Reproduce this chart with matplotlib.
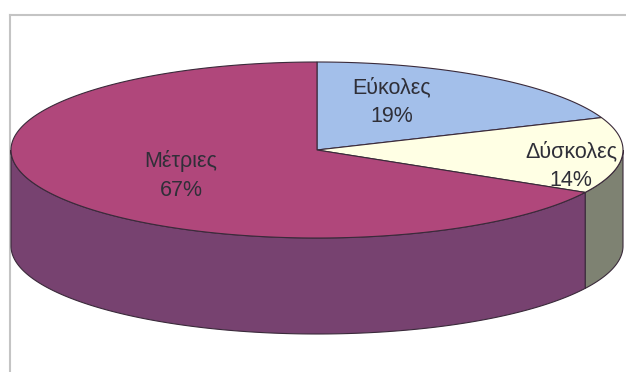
import numpy as np
import matplotlib
matplotlib.use("Agg")
import matplotlib.pyplot as plt
from matplotlib.patches import Polygon

# ---- data ----
labels = ["Εύκολες", "Δύσκολες", "Μέτριες"]
values = [19, 14, 67]
top_colors = ["#A3BFEA", "#FFFFE4", "#B0477B"]
side_colors = ["#6F8199", "#7E8272", "#774270"]

# ---- layout (pixel space) ----
W, H = 626, 372
cx, cy = 317, 150
a, b = 306, 88
depth = 96
label_pos = [(392, 102), (571, 166), (181, 175)]

fig = plt.figure(figsize=(W / 100, H / 100), dpi=100)
ax = fig.add_axes([0, 0, 1, 1])
ax.set_xlim(0, W)
ax.set_ylim(H, 0)
ax.axis("off")

# frame
ax.plot([10, W], [15, 15], color="#c4c4c4", lw=1.5, zorder=0)
ax.plot([10, 10], [15, H], color="#c4c4c4", lw=1.5, zorder=0)


def pt(theta_deg, dy=0.0):
    t = np.radians(theta_deg)
    return cx + a * np.cos(t), cy - b * np.sin(t) + dy


total = float(sum(values))
start = 90.0
edge = "#3a2a3a"
spans = []
for v in values:
    end = start - v / total * 360.0
    spans.append((end, start))
    start = end

# side walls (front half)
for (t0, t1), sc in zip(spans, side_colors):
    for shift in (-360, 0, 360):
        lo = max(t0 + shift, 180.0)
        hi = min(t1 + shift, 360.0)
        if hi > lo:
            th = np.linspace(lo, hi, 200)
            xs, ys = pt(th)
            xb, yb = pt(th[::-1], depth)
            poly = Polygon(np.column_stack([np.r_[xs, xb], np.r_[ys, yb]]),
                           closed=True, facecolor=sc, edgecolor=edge, lw=0.8, zorder=1)
            ax.add_patch(poly)

# tops
for (t0, t1), tc in zip(spans, top_colors):
    th = np.linspace(t0, t1, 300)
    xs, ys = pt(th)
    poly = Polygon(np.column_stack([np.r_[cx, xs], np.r_[cy, ys]]), closed=True,
                   facecolor=tc, edgecolor=edge, lw=0.8, zorder=2)
    ax.add_patch(poly)

for lab, v, (lx, ly) in zip(labels, values, label_pos):
    ax.text(lx, ly, f"{lab}\n{v}%", ha="center", va="center", fontsize=15.5,
            family=["Liberation Sans", "DejaVu Sans"], color="#2f2f38",
            linespacing=1.5, zorder=3)

fig.savefig("out.png", dpi=100, facecolor="white")
